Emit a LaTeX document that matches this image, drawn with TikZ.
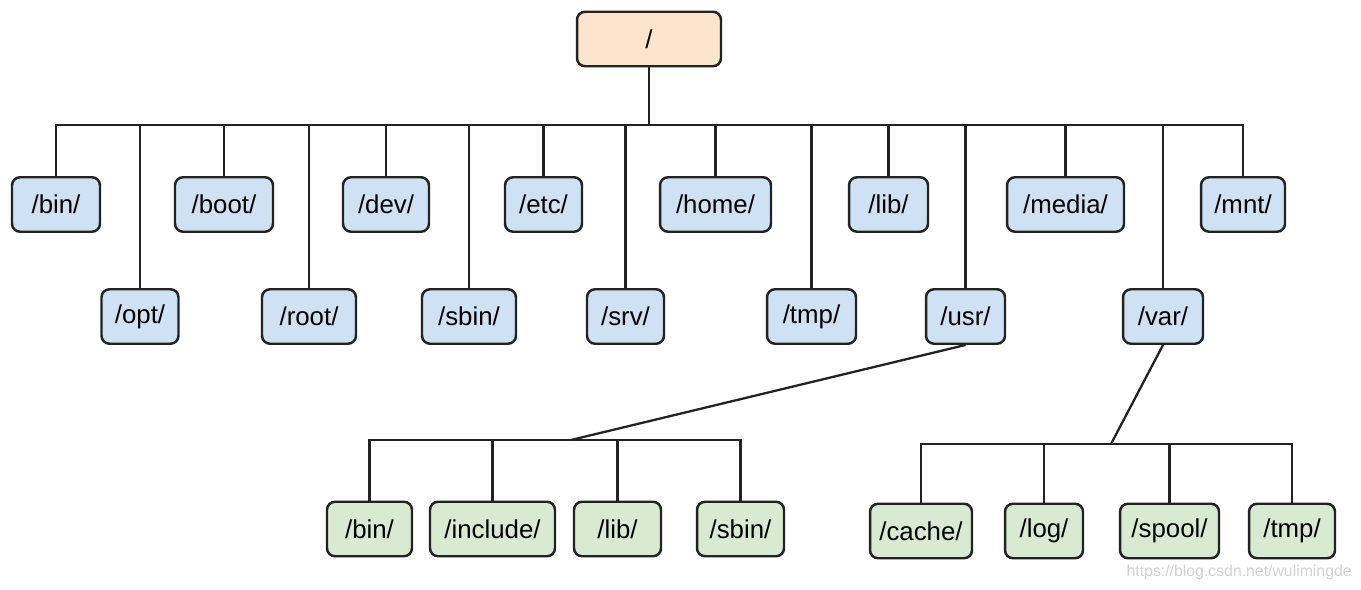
\documentclass[tikz,border=0pt]{standalone}
\usepackage{fontspec}
\setmainfont{Liberation Sans}
\definecolor{rootfill}{HTML}{FCE5CD}
\definecolor{dirfill}{HTML}{CFE2F3}
\definecolor{subfill}{HTML}{D9EAD3}
\definecolor{edge}{HTML}{222222}
\begin{document}
\begin{tikzpicture}[x=0.02cm,y=-0.02cm,
    dirbox/.style={draw=edge,line width=1.4pt,rounded corners=0.16cm,
      minimum height=1.09cm,inner sep=0pt,font=\fontsize{14.7}{17}\selectfont},
    rootdir/.style={dirbox,fill=rootfill},
    topdir/.style={dirbox,fill=dirfill},
    subdir/.style={dirbox,fill=subfill},
    link/.style={draw=edge,line width=1.3pt}]
  \useasboundingbox (0,0) rectangle (1361,590);
  \node[rootdir,minimum width=2.88cm] (root) at (649,39) {/};
  \draw
    (56,204.5) node[topdir,minimum width=1.76cm] (bin){/bin/}
    (140,316.5) node[topdir,minimum width=1.54cm] (opt){/opt/}
    (224,204.5) node[topdir,minimum width=1.96cm] (boot){/boot/}
    (309,316.5) node[topdir,minimum width=1.88cm] (rootdir){/root/}
    (386,204.5) node[topdir,minimum width=1.72cm] (dev){/dev/}
    (469,316.5) node[topdir,minimum width=1.88cm] (sbin){/sbin/}
    (543.5,204.5) node[topdir,minimum width=1.54cm] (etc){/etc/}
    (625.5,316.5) node[topdir,minimum width=1.54cm] (srv){/srv/}
    (715.5,204.5) node[topdir,minimum width=2.22cm] (home){/home/}
    (811.5,316.5) node[topdir,minimum width=1.78cm] (tmp){/tmp/}
    (888.5,204.5) node[topdir,minimum width=1.58cm] (lib){/lib/}
    (965.5,316.5) node[topdir,minimum width=1.58cm] (usr){/usr/}
    (1065.5,204.5) node[topdir,minimum width=2.34cm] (media){/media/}
    (1163,316.5) node[topdir,minimum width=1.60cm] (var){/var/}
    (1243,204.5) node[topdir,minimum width=1.68cm] (mnt){/mnt/};
  \draw
    (369.5,529) node[subdir,minimum width=1.70cm] (ubin){/bin/}
    (492.5,529) node[subdir,minimum width=2.50cm] (uinclude){/include/}
    (617.5,529) node[subdir,minimum width=1.74cm] (ulib){/lib/}
    (740.5,529) node[subdir,minimum width=1.74cm] (usbin){/sbin/}
    (921,531) node[subdir,minimum width=2.04cm] (vcache){/cache/}
    (1044,531) node[subdir,minimum width=1.56cm] (vlog){/log/}
    (1169.5,531) node[subdir,minimum width=1.98cm] (vspool){/spool/}
    (1292,531) node[subdir,minimum width=1.72cm] (vtmp){/tmp/};
  \coordinate (hub) at (649,125);
  \coordinate (usrhub) at (571,440);
  \coordinate (varhub) at (1111,444);
  \begin{scope}[link]
    \draw (root) -- (hub);
    \foreach \d in {bin,opt,boot,rootdir,dev,sbin,etc,srv,home,tmp,lib,usr,media,var,mnt}
      \draw (hub) -| (\d.north);
    \draw (usr.south) -- (usrhub);
    \foreach \d in {ubin,uinclude,ulib,usbin}
      \draw (usrhub) -| (\d.north);
    \draw (var.south) -- (varhub);
    \foreach \d in {vcache,vlog,vspool,vtmp}
      \draw (varhub) -| (\d.north);
  \end{scope}
  \node[anchor=east,text=black!18,font=\fontsize{9}{10}\selectfont,inner sep=0pt]
    (mark) at (1352,572) {https://blog.csdn.net/wulimingde};
\end{tikzpicture}
\end{document}
